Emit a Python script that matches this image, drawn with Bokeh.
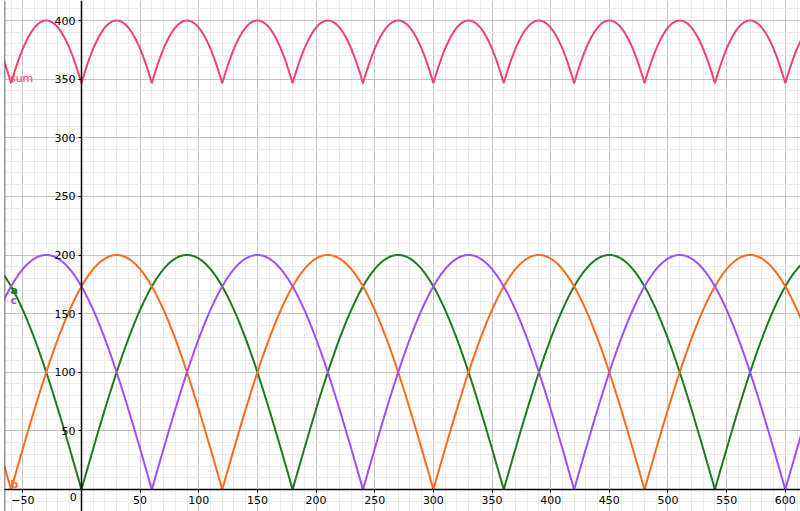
import numpy as np
from bokeh.plotting import figure
from bokeh.models import SingleIntervalTicker, Span, FixedTicker
from bokeh.embed import file_html
from bokeh.resources import INLINE
from bokeh.core.properties import value

# Values (degrees)
amplitude = 200
names = ["a", "b", "c"]
phases = [0, 60, -60]           # a = |200 sin x|, b = |200 sin(x+60)|, c = |200 sin(x-60)|
colors = ["#1f7a1f", "#ff6a1a", "#a04cff"]
sum_color = "#f2426c"
x_start, x_end = -70, 615
x_ticks = [-50, 0, 50, 100, 150, 200, 250, 300, 350, 400, 450, 500, 550, 600]
y_ticks = [50, 100, 150, 200, 250, 300, 350, 400]

x = np.arange(x_start, x_end + 0.25, 0.25)
curves = [np.abs(amplitude * np.sin(np.radians(x + ph))) for ph in phases]
total = curves[0] + curves[1] + curves[2]

left_data = -65.6
p = figure(width=800, height=511, output_backend="svg", toolbar_location=None,
           x_range=(left_data, 612.96), y_range=(-18.76, 417.06),
           min_border=0, min_border_left=4, min_border_right=0,
           min_border_top=0, min_border_bottom=0)
p.outline_line_color = None
p.background_fill_color = "white"

ticker = SingleIntervalTicker(interval=50, num_minor_ticks=5)
for g in (p.xgrid[0], p.ygrid[0]):
    g.ticker = ticker
    g.grid_line_color = "#c4c4c4"
    g.grid_line_width = 1
    g.minor_grid_line_color = "#ebebeb"
    g.minor_grid_line_width = 1

p.xaxis.ticker = FixedTicker(ticks=x_ticks)
p.yaxis.ticker = FixedTicker(ticks=y_ticks)
for ax in (p.xaxis[0], p.yaxis[0]):
    ax.fixed_location = 0
    ax.axis_line_color = "black"
    ax.axis_line_width = 1.5
    ax.major_tick_line_color = "black"
    ax.major_tick_in = 0
    ax.major_tick_out = 3
    ax.minor_tick_line_color = None
    ax.major_label_text_font = "DejaVu Sans"
    ax.major_label_text_font_size = "11px"
    ax.major_label_text_color = "black"
    ax.major_label_standoff = 3
# origin label sits to the left of the vertical axis
p.xaxis.major_label_overrides = {0: ""}
p.text(x=[-4], y=[-3], text=["0"], text_color="black",
       text_font=value("DejaVu Sans"), text_font_size="11px",
       text_baseline="top", text_align="right")

p.add_layout(Span(location=left_data, dimension="height",
                  line_color="#333333", line_width=1.5))

for c, col in zip(curves, colors):
    p.line(x, c, line_color=col, line_width=2)
p.line(x, total, line_color=sum_color, line_width=2)

p.text(x=[-61], y=[350.5], text=["sum"], text_color=sum_color,
       text_font=value("DejaVu Sans"), text_font_size="11px",
       text_baseline="middle", text_align="left")
p.text(x=[-60.5], y=[170], text=["a"], text_color=colors[0],
       text_font=value("DejaVu Sans"), text_font_size="11px", text_font_style="bold",
       text_baseline="middle", text_align="left")
p.text(x=[-60.5], y=[161], text=["c"], text_color=colors[2],
       text_font=value("DejaVu Sans"), text_font_size="11px", text_font_style="bold",
       text_baseline="middle", text_align="left")
p.text(x=[-60.5], y=[4], text=["b"], text_color=colors[1],
       text_font=value("DejaVu Sans"), text_font_size="11px", text_font_style="bold",
       text_baseline="middle", text_align="left")

open("out.html", "w").write(file_html(p, INLINE))
